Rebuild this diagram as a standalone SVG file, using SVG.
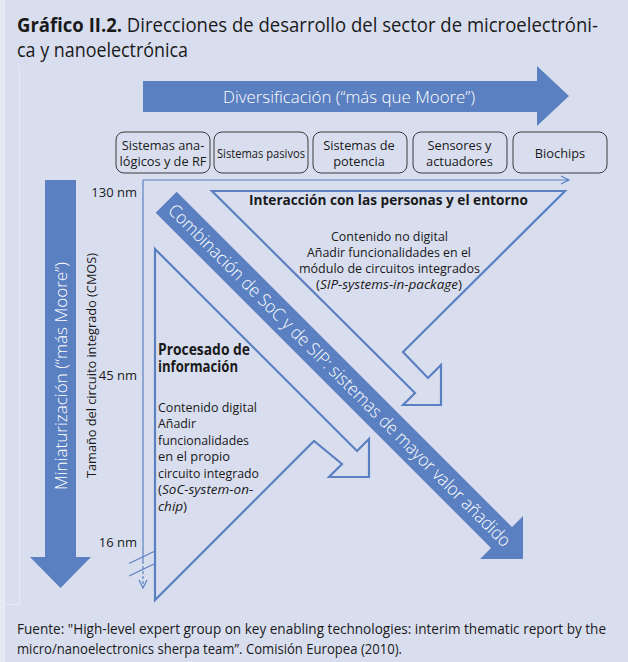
<svg xmlns="http://www.w3.org/2000/svg" width="628" height="662" viewBox="0 0 628 662">
<style>
text{font-family:"Open Sans","Noto Sans","Liberation Sans",sans-serif;fill:#1a1a1a}
.t{font-size:20px}
.b{font-weight:bold}
.w{fill:#ffffff;font-weight:300}
.box{fill:#d9deef;stroke:#3a3a3a;stroke-width:1}
.bt{font-size:12.8px;text-anchor:middle}
.ax{fill:none;stroke:#5b80c1;stroke-width:1.2}
.hol{fill:none;stroke:#5b80c1;stroke-width:2.2;stroke-linejoin:miter}
.fill{fill:#5b80c1}
.s{font-size:13.5px}
.nm{font-size:13px;text-anchor:end}
.f{font-size:14px}
</style>
<rect x="0" y="0" width="628" height="662" fill="#d9deef"/>
<rect x="0" y="0" width="5" height="662" fill="#e7eaf5"/>
<path d="M19.5,65 V604.5 H5" fill="none" stroke="#e4e8f4" stroke-width="1"/>

<g id="title">
<text class="t" x="17" y="32" textLength="581" lengthAdjust="spacingAndGlyphs"><tspan class="b">Gráfico II.2.</tspan> Direcciones de desarrollo del sector de microelectróni-</text>
<text class="t" x="17" y="56.5" textLength="171" lengthAdjust="spacingAndGlyphs">ca y nanoelectrónica</text>
</g>

<g id="diversificacion">
<polygon class="fill" points="143,81 537,81 537,66 569,96 537,126 537,112 143,112"/>
<text class="w" x="349" y="103" font-size="17" text-anchor="middle" textLength="252" lengthAdjust="spacingAndGlyphs">Diversificación (“más que Moore”)</text>
</g>

<g id="box1"><rect class="box" x="116" y="132" width="94" height="41" rx="8"/>
<text class="bt" x="163" y="150">Sistemas ana-</text><text class="bt" x="163" y="166">lógicos y de RF</text></g>
<g id="box2"><rect class="box" x="214" y="132" width="94" height="41" rx="8"/>
<text class="bt" x="261" y="157.5" textLength="88" lengthAdjust="spacingAndGlyphs">Sistemas pasivos</text></g>
<g id="box3"><rect class="box" x="313" y="132" width="94" height="41" rx="8"/>
<text class="bt" x="359" y="150">Sistemas de</text><text class="bt" x="359" y="166">potencia</text></g>
<g id="box4"><rect class="box" x="413" y="132" width="94" height="41" rx="8"/>
<text class="bt" x="459.5" y="150">Sensores y</text><text class="bt" x="459.5" y="166">actuadores</text></g>
<g id="box5"><rect class="box" x="513" y="132" width="94" height="41" rx="8"/>
<text class="bt" x="560" y="157.5">Biochips</text></g>

<g id="miniaturizacion">
<polygon class="fill" points="45,180 76,180 76,557 91,557 60.5,588 30,557 45,557"/>
<text class="w" transform="translate(60.5,376) rotate(-90)" x="0" y="6" font-size="17" text-anchor="middle" textLength="228" lengthAdjust="spacingAndGlyphs">Miniaturización (“más Moore”)</text>
</g>

<g id="axes">
<path class="ax" d="M143,180 H568 M561,176 L569,180 L561,184"/>
<path class="ax" d="M143,180 V564"/>
<path class="ax" d="M143,566 V587" stroke-dasharray="3,2"/>
<path class="ax" d="M139,580 L143,588 L147,580"/>
<path class="ax" d="M129,563.5 L154,551.5 M129,576 L154,564"/>
<text class="nm" x="137" y="197">130 nm</text>
<text class="nm" x="137" y="380">45 nm</text>
<text class="nm" x="137" y="547">16 nm</text>
<text transform="translate(91,365.5) rotate(-90)" x="0" y="4.5" font-size="13" text-anchor="middle" textLength="225" lengthAdjust="spacingAndGlyphs">Tamaño del circuito integrado (CMOS)</text>
</g>

<g id="interaccion">
<polygon class="hol" points="212,191 565,191 403,352 428,378 441,365 441,405 403,405 415,393"/>
<text class="b" x="249" y="205" font-size="15" textLength="279" lengthAdjust="spacingAndGlyphs">Interacción con las personas y el entorno</text>
<text class="s" x="389.5" y="241" text-anchor="middle" textLength="117" lengthAdjust="spacingAndGlyphs">Contenido no digital</text>
<text class="s" x="389" y="257" text-anchor="middle" textLength="164" lengthAdjust="spacingAndGlyphs">Añadir funcionalidades en el</text>
<text class="s" x="389.5" y="273" text-anchor="middle" textLength="181" lengthAdjust="spacingAndGlyphs">módulo de circuitos integrados</text>
<text class="s" x="389" y="289" text-anchor="middle">(<tspan font-style="italic">SIP-systems-in-package</tspan>)</text>
</g>

<g id="procesado">
<polygon class="hol" points="155,249 357,451 369,439 369,477 329,477 342,464 314,441 155,600"/>
<text class="b" x="158" y="355" font-size="16" textLength="92" lengthAdjust="spacingAndGlyphs">Procesado de</text>
<text class="b" x="158" y="372" font-size="16" textLength="80" lengthAdjust="spacingAndGlyphs">información</text>
<text class="s" x="158" y="411.5" textLength="99" lengthAdjust="spacingAndGlyphs">Contenido digital</text>
<text class="s" x="158" y="428" textLength="38" lengthAdjust="spacingAndGlyphs">Añadir</text>
<text class="s" x="158" y="444.5" textLength="91" lengthAdjust="spacingAndGlyphs">funcionalidades</text>
<text class="s" x="158" y="461" textLength="72" lengthAdjust="spacingAndGlyphs">en el propio</text>
<text class="s" x="158" y="477.5" textLength="101" lengthAdjust="spacingAndGlyphs">circuito integrado</text>
<text class="s" x="158" y="494">(<tspan font-style="italic">SoC-system-on-</tspan></text>
<text class="s" x="158" y="510.5"><tspan font-style="italic">chip</tspan>)</text>
</g>

<g id="combinacion">
<polygon class="fill" points="176.7,191.7 512,527 523,516 523,559 480,559 491,548 155.7,212.7"/>
<text class="w" transform="translate(339.5,375.5) rotate(45)" x="0" y="6" font-size="18" text-anchor="middle" textLength="476" lengthAdjust="spacingAndGlyphs">Combinación de SoC y de SIP: sistemas de mayor valor añadido</text>
</g>

<g id="fuente">
<text class="f" x="17" y="634" textLength="589" lengthAdjust="spacingAndGlyphs">Fuente: "High-level expert group on key enabling technologies: interim thematic report by the</text>
<text class="f" x="17" y="654" textLength="385" lengthAdjust="spacingAndGlyphs">micro/nanoelectronics sherpa team”. Comisión Europea (2010).</text>
</g>
</svg>
